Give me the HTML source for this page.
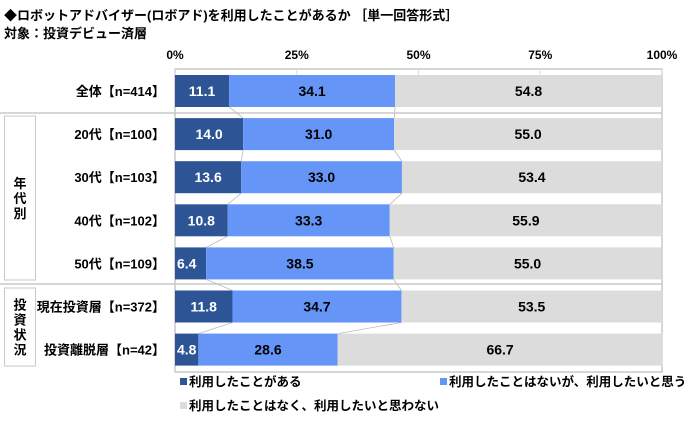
<!DOCTYPE html>
<html><head><meta charset="utf-8"><style>
body{margin:0;background:#fff;width:700px;height:428px;overflow:hidden;font-family:"Liberation Sans","Noto Sans CJK JP",sans-serif;}
text{font-family:"Liberation Sans","Noto Sans CJK JP",sans-serif;font-weight:bold;}
</style></head><body>
<svg id="chart" width="700" height="428">
<text x="4" y="20" font-size="13">◆ロボットアドバイザー(ロボアド)を利用したことがあるか ［単一回答形式］</text>
<text x="4" y="38" font-size="13">対象：投資デビュー済層</text>
<g id="plot"></g>
</svg>
<script>
const categories=["全体【n=414】","20代【n=100】","30代【n=103】","40代【n=102】","50代【n=109】","現在投資層【n=372】","投資離脱層【n=42】"];
const used=[11.1,14.0,13.6,10.8,6.4,11.8,4.8];
const wantTo=[34.1,31.0,33.0,33.3,38.5,34.7,28.6];
const notWant=[54.8,55.0,53.4,55.9,55.0,53.5,66.7];
const ticks=[0,25,50,75,100];
const tickLabels=["0%","25%","50%","75%","100%"];
const seriesNames=["利用したことがある","利用したことはないが、利用したいと思う","利用したことはなく、利用したいと思わない"];
const colors=["#2d5596","#6596f7","#dcdcdc"];
const NS="http://www.w3.org/2000/svg";
const g=document.getElementById('plot');
const X0=175,X1=662,TOP=75,PITCH=43.1,BH=32;
const xs=v=>X0+(X1-X0)*v/100;
const yTop=i=>TOP+i*PITCH;
function el(t,a){const e=document.createElementNS(NS,t);for(const k in a)e.setAttribute(k,a[k]);g.appendChild(e);return e;}
let f=el('rect',{x:X0,y:69,width:X1-X0,height:303,fill:'none',stroke:'#c8c8c8','stroke-width':1.5});


ticks.forEach((t,i)=>{
 let gl=el('line',{x1:xs(t),x2:xs(t),y1:69,y2:75,stroke:'#ddd'});
 
 
 let tx=el('text',{x:xs(t),y:59,'font-size':12,'text-anchor':'middle'});
 tx.textContent=tickLabels[i];
 
 
});
[[0,113],[0,284]].forEach(s=>{
 let l=el('line',{x1:s[0],x2:X1,y1:s[1],y2:s[1],stroke:'#c8c8c8','stroke-width':1.5});
 
 
});
[[116,280,["年","代","別"]],[288,366,["投","資","状","況"]]].forEach(b=>{
 let r=el('rect',{x:4.5,y:b[0],width:31,height:b[1]-b[0],fill:'#fff',stroke:'#c8c8c8'});
 
 
 const mid=(b[0]+b[1])/2,n=b[2].length;
 b[2].forEach((c,k)=>{
  let t=el('text',{x:20,y:mid+(k-(n-1)/2)*15+5,'font-size':13,'text-anchor':'middle'});
  t.textContent=c;
  
  
 });
});
const series=[used,wantTo,notWant];
for(let i=0;i<categories.length-1;i++){
 let c1=0,c2=0;
 for(let s=0;s<2;s++){
  c1+=series[s][i];c2+=series[s][i+1];
  let l=el('line',{x1:xs(c1),y1:yTop(i)+BH,x2:xs(c2),y2:yTop(i+1),stroke:'#bbb','stroke-width':0.8});
  
  
 }
}
categories.forEach((cat,i)=>{
 const y=yTop(i);
 let lb=el('text',{x:165,y:y+BH/2+5,'font-size':13,'text-anchor':'end'});
 lb.textContent=cat;
 
 
 let cum=0;
 series.forEach((sv,s)=>{
  const v=sv[i];
  let r=el('rect',{x:xs(cum),y:y,width:xs(cum+v)-xs(cum),height:BH,fill:colors[s]});
  
  
  const small=v<8;
  let t=el('text',{x:small?xs(cum)+2:(xs(cum)+xs(cum+v))/2,y:y+BH/2+5,'font-size':14,'text-anchor':small?'start':'middle',fill:s==0?'#fff':'#000'});
  t.textContent=v.toFixed(1);
  
  
  cum+=v;
 });
});
[[180,386],[440,386],[180,410]].forEach((p,s)=>{
 let m=el('rect',{x:p[0],y:p[1]-8,width:7,height:7,fill:colors[s]});
 
 
 let t=el('text',{x:p[0]+9,y:p[1],'font-size':12.5});
 t.textContent=seriesNames[s];
 
 
});
</script>
</body></html>
